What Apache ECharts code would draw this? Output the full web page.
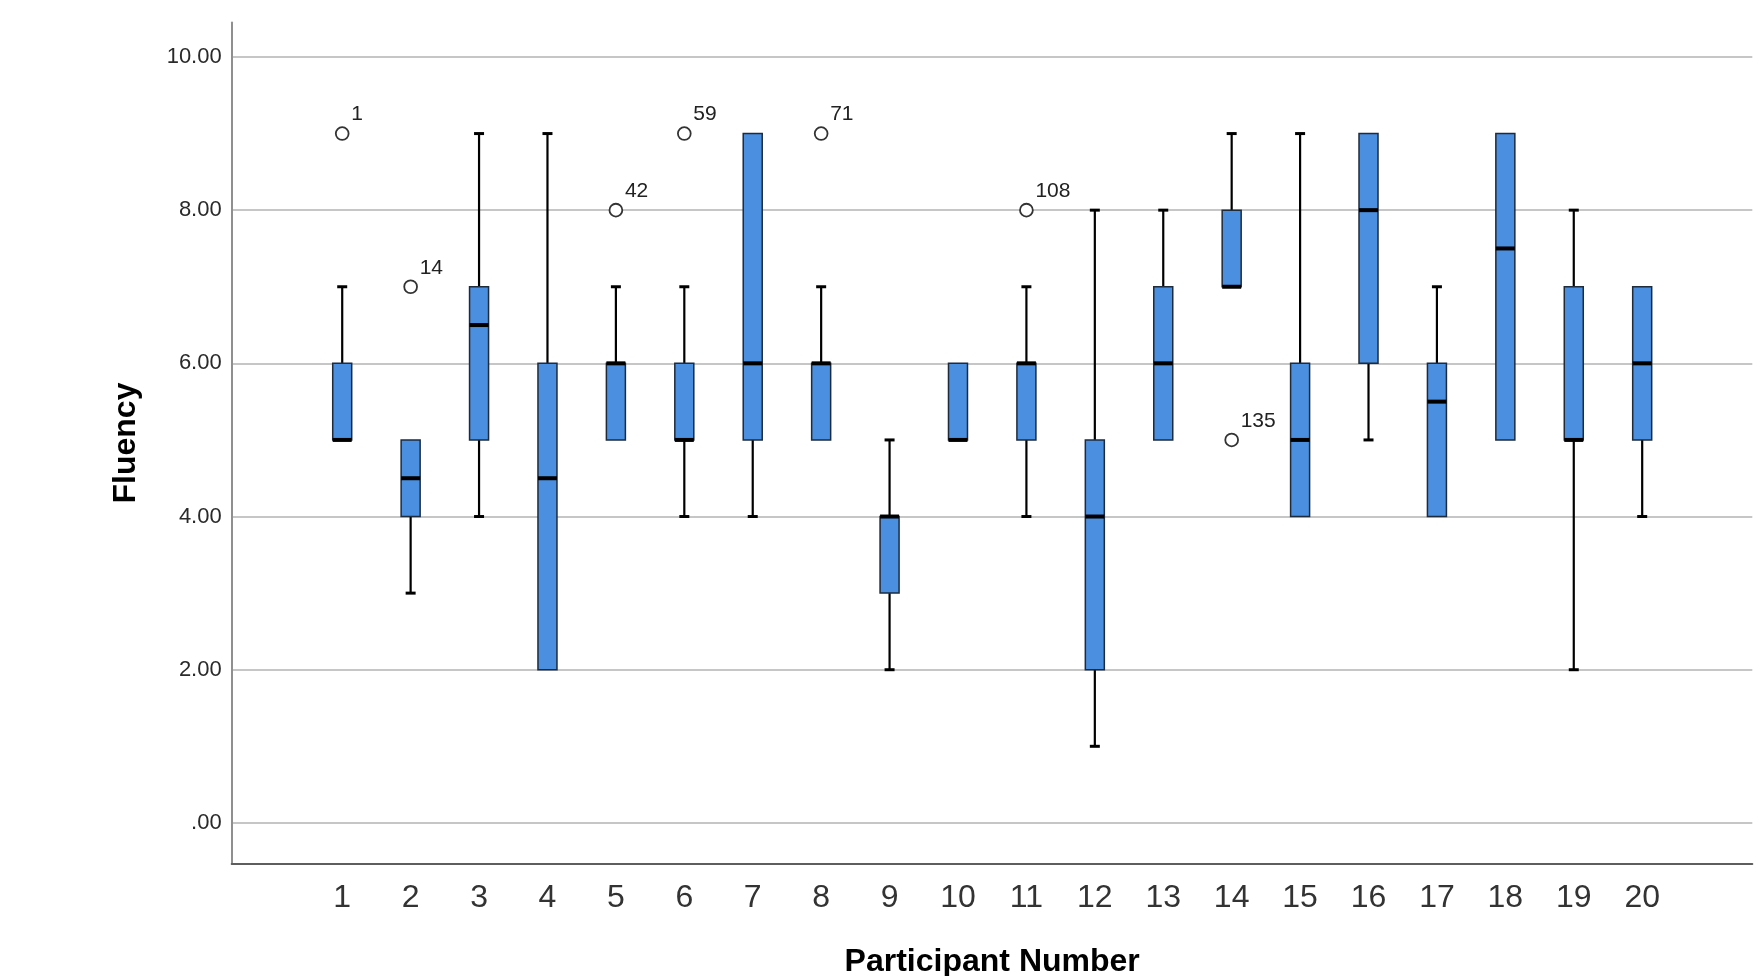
<!DOCTYPE html>
<html>
<head>
<meta charset="utf-8">
<script src="https://cdn.jsdelivr.net/npm/echarts@6/dist/echarts.min.js"></script>
<style>
html,body{margin:0;padding:0;background:#ffffff;}
#chart{width:1762px;height:976px;}
</style>
</head>
<body>
<div id="chart"></div>
<script>
// ---- Data ----
const participants = ['1','2','3','4','5','6','7','8','9','10','11','12','13','14','15','16','17','18','19','20'];
const mins    = [5, 3, 4,   2,   5, 4, 4, 5, 2, 5, 4, 1, 5, 7, 4, 5, 4,   5,   2, 4];
const q1s     = [5, 4, 5,   2,   5, 5, 5, 5, 3, 5, 5, 2, 5, 7, 4, 6, 4,   5,   5, 5];
const medians = [5, 4.5, 6.5, 4.5, 6, 5, 6, 6, 4, 5, 6, 4, 6, 7, 5, 8, 5.5, 7.5, 5, 6];
const q3s     = [6, 5, 7,   6,   6, 6, 9, 6, 4, 6, 6, 5, 7, 8, 6, 9, 6,   9,   7, 7];
const maxs    = [7, 5, 9,   9,   7, 7, 9, 7, 5, 6, 7, 8, 8, 9, 9, 9, 7,   9,   8, 7];

const outlierParticipant = ['1','2','5','6','8','11','14'];
const outlierValue       = [9, 7, 8, 9, 9, 8, 5];
const outlierCase        = ['1','14','42','59','71','108','135'];

const yTickLabels = {0:'.00', 2:'2.00', 4:'4.00', 6:'6.00', 8:'8.00', 10:'10.00'};

// ---- Chart ----
const FONT = '"Liberation Sans", Arial, sans-serif';
const chart = echarts.init(document.getElementById('chart'), null, {renderer:'canvas'});

const boxData = participants.map((p, i) => [i, mins[i], q1s[i], medians[i], q3s[i], maxs[i]]);
const outlierData = outlierParticipant.map((p, i) => [participants.indexOf(p), outlierValue[i]]);

const Y_MIN = -0.53, Y_MAX = 10.45;
const yScale = {type: 'value', min: Y_MIN, max: Y_MAX, splitNumber: 5, minInterval: 2, maxInterval: 2};

const option = {
  animation: false,
  backgroundColor: '#ffffff',
  grid: [
    {left: 231.7, right: 9.7, top: 22.5, bottom: 112.5, containLabel: false, outerBoundsMode: 'none'},
    {left: 308, right: 85.6, top: 22.5, bottom: 112.5, containLabel: false, outerBoundsMode: 'none'}
  ],
  xAxis: [
    {
      gridIndex: 0, type: 'value', min: 0, max: 1,
      axisLine: {show: true, onZero: false, lineStyle: {color: '#5e5e5e', width: 2}},
      axisTick: {show: false}, axisLabel: {show: false}, splitLine: {show: false}
    },
    {
      gridIndex: 1, type: 'category', data: participants, boundaryGap: true,
      axisLine: {show: false, onZero: false}, axisTick: {show: false}, splitLine: {show: false},
      axisLabel: {fontSize: 32, color: '#333333', margin: 19, fontFamily: FONT, interval: 0},
      name: 'Participant Number', nameLocation: 'middle', nameGap: 87,
      nameTextStyle: {fontSize: 32, lineHeight: 24, fontWeight: 'bold', color: '#000', fontFamily: FONT}
    }
  ],
  yAxis: [
    Object.assign({}, yScale, {
      gridIndex: 0,
      axisLine: {show: true, onZero: false, lineStyle: {color: '#8f8f8f', width: 2}},
      axisTick: {show: false},
      axisLabel: {
        fontSize: 22, color: '#2a2a2a', margin: 10, fontFamily: FONT,
        formatter: v => (yTickLabels[v] !== undefined ? yTickLabels[v] : '')
      },
      splitLine: {show: true, showMinLine: false, showMaxLine: false, lineStyle: {color: '#c6c6c6', width: 2}},
      name: 'Fluency', nameLocation: 'middle', nameGap: 90,
      nameTextStyle: {fontSize: 32, fontWeight: 'bold', color: '#000', fontFamily: FONT}
    }),
    Object.assign({}, yScale, {
      gridIndex: 1, show: false,
      axisLine: {show: false, onZero: false}, axisLabel: {show: false}, axisTick: {show: false},
      splitLine: {show: false}
    })
  ],
  series: [
    {
      type: 'custom',
      xAxisIndex: 1, yAxisIndex: 1,
      data: boxData,
      encode: {x: 0, y: [1, 2, 3, 4, 5]},
      renderItem: function (params, api) {
        const i = api.value(0);
        const cx = api.coord([i, 0])[0];
        const yv = k => api.coord([i, api.value(k)])[1];
        const vMin = api.value(1), vQ1 = api.value(2), vQ3 = api.value(4), vMax = api.value(5);
        const yMin = yv(1), yQ1 = yv(2), yMed = yv(3), yQ3 = yv(4), yMax = yv(5);
        const bw = 19, cap = 10;
        const children = [];
        const wStyle = {stroke: '#000', lineWidth: 2.2};
        const cStyle = {stroke: '#000', lineWidth: 3};
        if (vMax > vQ3) {
          children.push({type: 'line', shape: {x1: cx, y1: yQ3, x2: cx, y2: yMax}, style: wStyle});
          children.push({type: 'line', shape: {x1: cx - cap / 2, y1: yMax, x2: cx + cap / 2, y2: yMax}, style: cStyle});
        }
        if (vMin < vQ1) {
          children.push({type: 'line', shape: {x1: cx, y1: yQ1, x2: cx, y2: yMin}, style: wStyle});
          children.push({type: 'line', shape: {x1: cx - cap / 2, y1: yMin, x2: cx + cap / 2, y2: yMin}, style: cStyle});
        }
        children.push({
          type: 'rect',
          shape: {x: cx - bw / 2, y: yQ3, width: bw, height: yQ1 - yQ3},
          style: {fill: '#4b8fe0', stroke: '#1d2b3c', lineWidth: 1.5}
        });
        children.push({type: 'line', shape: {x1: cx - bw / 2, y1: yMed, x2: cx + bw / 2, y2: yMed}, style: {stroke: '#000', lineWidth: 4}});
        return {type: 'group', children: children};
      },
      z: 3
    },
    {
      type: 'custom',
      xAxisIndex: 1, yAxisIndex: 1,
      data: outlierData,
      encode: {x: 0, y: 1},
      renderItem: function (params, api) {
        const pt = api.coord([api.value(0), api.value(1)]);
        return {
          type: 'group',
          children: [
            {type: 'circle', shape: {cx: pt[0], cy: pt[1], r: 6.4}, style: {fill: '#ffffff', stroke: '#333333', lineWidth: 1.8}},
            {type: 'text', x: pt[0] + 9, y: pt[1] - 19,
              style: {text: outlierCase[params.dataIndex], fontSize: 21, fill: '#222', fontFamily: FONT, align: 'left', verticalAlign: 'middle'}}
          ]
        };
      },
      z: 4
    }
  ]
};

chart.setOption(option);
</script>
</body>
</html>
